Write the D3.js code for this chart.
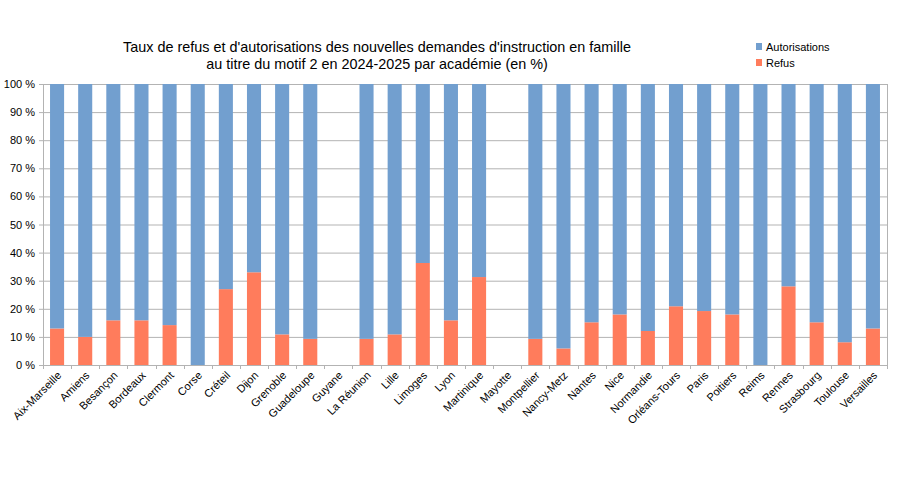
<!DOCTYPE html>
<html>
<head>
<meta charset="utf-8">
<script src="https://cdn.jsdelivr.net/npm/d3@7"></script>
<style>
  body { margin: 0; background: #fff; }
  text { font-family: "Liberation Sans", Arial, sans-serif; fill: #000; }
</style>
</head>
<body>
<div id="chart"></div>
<script>
// data
var academies = ["Aix-Marseille", "Amiens", "Besançon", "Bordeaux", "Clermont", "Corse", "Créteil",
  "Dijon", "Grenoble", "Guadeloupe", "Guyane", "La Réunion", "Lille", "Limoges", "Lyon", "Martinique",
  "Mayotte", "Montpellier", "Nancy-Metz", "Nantes", "Nice", "Normandie", "Orléans-Tours", "Paris",
  "Poitiers", "Reims", "Rennes", "Strasbourg", "Toulouse", "Versailles"];
var refus = [13.0, 10.0, 15.9, 15.9, 14.2, 0, 27.0, 33.0, 10.9, 9.3, 0, 9.3, 10.9, 36.3, 15.9, 31.3,
  0, 9.3, 5.9, 15.2, 18.0, 12.1, 20.9, 19.2, 18.0, 0, 28.0, 15.2, 8.1, 13.0];
var autorisations = [87.0, 90.0, 84.1, 84.1, 85.8, 100, 73.0, 67.0, 89.1, 90.7, 0, 90.7, 89.1, 63.7,
  84.1, 68.7, 0, 90.7, 94.1, 84.8, 82.0, 87.9, 79.1, 80.8, 82.0, 100, 72.0, 84.8, 91.9, 87.0];
var seriesNames = ["Autorisations", "Refus"];
var yTicks = [0, 10, 20, 30, 40, 50, 60, 70, 80, 90, 100];

var svgWidth = 904, svgHeight = 483;
var margin = { top: 84, right: 17, bottom: 118, left: 43 };
var width = svgWidth - margin.left - margin.right;
var height = svgHeight - margin.top - margin.bottom;

var colors = { "Autorisations": "#729fcf", "Refus": "#ff7c5c" };

var svg = d3.select("#chart").append("svg")
  .attr("width", svgWidth)
  .attr("height", svgHeight);

var g = svg.append("g")
  .attr("transform", `translate(${margin.left}, ${margin.top})`);

var x = d3.scaleBand().domain(academies).range([0, width]).paddingInner(0.5).paddingOuter(0.25);
var y = d3.scaleLinear().domain([0, 100]).range([height, 0]);

// gridlines
g.selectAll(".grid").data(yTicks).enter().append("line")
  .attr("x1", -4).attr("x2", width)
  .attr("y1", d => y(d) + 0.5).attr("y2", d => y(d) + 0.5)
  .attr("stroke", "#b3b3b3").attr("stroke-width", 1);

// stacked bars
var table = academies.map((a, i) => ({ academie: a, Refus: refus[i], Autorisations: autorisations[i] }));
var stack = d3.stack().keys(["Refus", "Autorisations"])(table);

g.selectAll(".serie").data(stack).enter().append("g")
  .attr("fill", d => colors[d.key])
  .selectAll("rect").data(d => d).enter().append("rect")
  .attr("x", d => x(d.data.academie))
  .attr("width", x.bandwidth())
  .attr("y", d => y(d[1]))
  .attr("height", d => y(d[0]) - y(d[1]));

// axes frame
g.append("line").attr("x1", 0.5).attr("x2", 0.5).attr("y1", 0).attr("y2", height)
  .attr("stroke", "#b3b3b3");
g.append("line").attr("x1", width + 0.5).attr("x2", width + 0.5).attr("y1", 0).attr("y2", height)
  .attr("stroke", "#b3b3b3");

// x ticks at band boundaries
var bounds = d3.range(academies.length + 1).map(i => i * width / academies.length);
g.selectAll(".xtick").data(bounds).enter().append("line")
  .attr("x1", d => Math.round(d) + 0.5).attr("x2", d => Math.round(d) + 0.5)
  .attr("y1", height).attr("y2", height + 4)
  .attr("stroke", "#b3b3b3");

// y labels
g.selectAll(".ylab").data(yTicks).enter().append("text")
  .attr("x", -8).attr("y", d => y(d) + 4)
  .attr("text-anchor", "end")
  .attr("font-size", 11)
  .text(d => d + " %");

// x labels rotated
g.selectAll(".xlab").data(academies).enter().append("text")
  .attr("transform", d => `translate(${x(d) + x.bandwidth() / 2 + 5}, ${height + 11}) rotate(-45)`)
  .attr("text-anchor", "end")
  .attr("font-size", 11)
  .text(d => d);

// title
svg.append("text").attr("x", 377).attr("y", 52).attr("text-anchor", "middle")
  .attr("font-size", 14.4).text("Taux de refus et d'autorisations des nouvelles demandes d'instruction en famille");
svg.append("text").attr("x", 377).attr("y", 69).attr("text-anchor", "middle")
  .attr("font-size", 14.4).text("au titre du motif 2 en 2024-2025 par académie (en %)");

// legend
var legend = svg.append("g").attr("transform", "translate(756, 43)");
seriesNames.forEach((s, i) => {
  legend.append("rect").attr("x", 0).attr("y", i * 16).attr("width", 6).attr("height", 7)
    .attr("fill", colors[s]);
  legend.append("text").attr("x", 10).attr("y", i * 16 + 8).attr("font-size", 11).text(s);
});
</script>
</body>
</html>
